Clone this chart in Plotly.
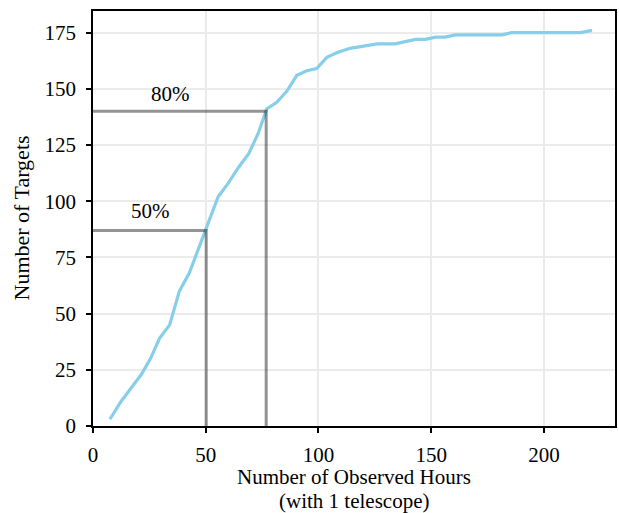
import plotly.graph_objects as go

# Cumulative number of targets completed vs. observing hours (single telescope)
hours = [7.5, 12.5, 17, 21.5, 25.5, 29.5, 34, 38.3, 42.7, 50, 55.5, 60, 64.5, 69,
         73.2, 77, 81.5, 86, 90.4, 94.8, 99.2, 103.7, 108.1, 114, 120, 126, 134,
         138.5, 143, 147.5, 152, 156.2, 160.7, 166, 172, 177, 181.4, 185.8, 192,
         200, 208, 216.2, 221.3]
targets = [3, 11, 17, 23, 30, 39, 45, 60, 68, 87, 102, 108, 115, 121,
           130, 141, 144, 149, 156, 158, 159, 164, 166, 168, 169, 170, 170,
           171, 172, 172, 173, 173, 174, 174, 174, 174, 174, 175, 175,
           175, 175, 175, 176]

# Milestones: fraction label, hours needed, targets reached
milestone_labels = ["50%", "80%"]
milestone_hours = [50.2, 76.8]
milestone_targets = [87, 140]
label_pos_x = [25.5, 34.5]
label_pos_y = [95.5, 147.5]

x_ticks = [0, 50, 100, 150, 200]
y_ticks = [0, 25, 50, 75, 100, 125, 150, 175]

x_title_lines = ["Number of Observed Hours", "(with 1 telescope)"]
y_title = "Number of Targets"

FONT = "Liberation Serif"
FS = 21
FS_TITLE = 22

fig = go.Figure()

fig.add_trace(go.Scatter(
    x=hours, y=targets, mode="lines",
    line=dict(color="#87ceeb", width=3.2),
    showlegend=False))

for h, t in zip(milestone_hours, milestone_targets):
    fig.add_trace(go.Scatter(
        x=[0, h, h], y=[t, t, 0], mode="lines",
        line=dict(color="rgba(0,0,0,0.42)", width=3),
        hoverinfo="skip", showlegend=False))

for lab, lx, ly in zip(milestone_labels, label_pos_x, label_pos_y):
    fig.add_annotation(x=lx, y=ly, text=lab, showarrow=False,
                       font=dict(family=FONT, size=FS, color="black"))

# Axis titles placed as paper-anchored text
for line, shift in zip(x_title_lines, [-51, -75]):
    fig.add_annotation(xref="paper", yref="paper", x=0.5, y=0, yanchor="middle",
                       yshift=shift, text=line, showarrow=False,
                       font=dict(family=FONT, size=FS, color="black"))
fig.add_annotation(xref="paper", yref="paper", x=0, y=0.5, xanchor="center",
                   xshift=-72, text=y_title, textangle=-90, showarrow=False,
                   font=dict(family=FONT, size=FS_TITLE, color="black"))

axis_common = dict(
    showline=True, linecolor="black", linewidth=1.5, mirror=True,
    ticks="outside", ticklen=5, tickwidth=1.5, tickcolor="black",
    showgrid=True, gridcolor="#ebebeb", gridwidth=1.5,
    zeroline=False, automargin=False,
    tickfont=dict(family=FONT, size=FS, color="black"),
)

fig.update_layout(
    width=619, height=513,
    margin=dict(l=93, r=4, t=11, b=87),
    paper_bgcolor="white", plot_bgcolor="white",
    font=dict(family=FONT, color="black"),
    xaxis=dict(range=[0, 231.5], tickvals=x_ticks, ticklabelstandoff=4,
               **axis_common),
    yaxis=dict(range=[0, 184.6], tickvals=y_ticks, ticklabelstandoff=6,
               **axis_common),
)

fig.write_html("out.html")
